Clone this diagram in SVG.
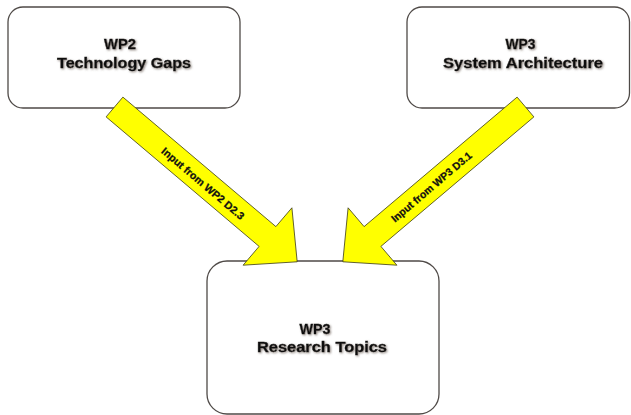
<svg xmlns="http://www.w3.org/2000/svg" width="631" height="415" viewBox="0 0 631 415">
<defs>
<filter id="halo" x="-10%" y="-30%" width="120%" height="160%">
<feGaussianBlur in="SourceAlpha" stdDeviation="0.8" result="b"/>
<feOffset in="b" dx="0.6" dy="0.6" result="o"/>
<feFlood flood-color="#7a6f68" flood-opacity="0.85"/>
<feComposite in2="o" operator="in" result="s"/>
<feMerge><feMergeNode in="s"/><feMergeNode in="SourceGraphic"/></feMerge>
</filter>
</defs>
<style>
.box{fill:#ffffff;stroke:#4f4a47;stroke-width:1.3}
.lbl{font-family:"Liberation Sans",Arial,sans-serif;font-weight:bold;font-size:14px;fill:#111111;stroke:#111111;stroke-width:0.35;text-anchor:middle}
.arrow{fill:#ffff00;stroke:#3a3a1a;stroke-width:0.8;stroke-linejoin:miter}
.alb{font-family:"Liberation Sans",Arial,sans-serif;font-weight:bold;font-size:10.5px;fill:#111111;stroke:#111111;stroke-width:0.25;text-anchor:middle}
</style>
<rect width="631" height="415" fill="#ffffff"/>
<g id="wp2-gaps">
<rect class="box" x="8" y="7" width="232" height="101" rx="15"/>
<text class="lbl" filter="url(#halo)" x="120" y="49" textLength="32" lengthAdjust="spacingAndGlyphs">WP2</text>
<text class="lbl" filter="url(#halo)" x="124" y="68" textLength="134" lengthAdjust="spacingAndGlyphs">Technology Gaps</text>
</g>
<g id="wp3-arch">
<rect class="box" x="407" y="7" width="222.5" height="101" rx="15"/>
<text class="lbl" filter="url(#halo)" x="520.5" y="49" textLength="30" lengthAdjust="spacingAndGlyphs">WP3</text>
<text class="lbl" filter="url(#halo)" x="523" y="68" textLength="160" lengthAdjust="spacingAndGlyphs">System Architecture</text>
</g>
<g id="wp3-topics">
<rect class="box" x="207" y="261" width="232" height="153" rx="20"/>
<text class="lbl" filter="url(#halo)" x="315" y="334" textLength="31" lengthAdjust="spacingAndGlyphs">WP3</text>
<text class="lbl" filter="url(#halo)" x="322" y="352" textLength="130" lengthAdjust="spacingAndGlyphs">Research Topics</text>
</g>
<g id="connectors">
<g id="arrow-wp2">
<polygon class="arrow" points="122.9,97.1 275.9,226.6 291.9,207.8 297.2,261.8 243.1,265.2 259.1,246.4 106.1,116.9"/>
<text class="alb" transform="translate(203,183.5) rotate(40.4)" x="0" y="3.7" textLength="105" lengthAdjust="spacingAndGlyphs">Input from WP2 D2.3</text>
</g>
<g id="arrow-wp3">
<polygon class="arrow" points="517.1,97.1 364.1,226.6 348.1,207.8 342.8,261.8 396.9,265.2 380.9,246.4 533.9,116.9"/>
<text class="alb" transform="translate(431.5,186.9) rotate(-40.4)" x="0" y="3.7" textLength="102" lengthAdjust="spacingAndGlyphs">Input from WP3 D3.1</text>
</g>
</g>
</svg>
